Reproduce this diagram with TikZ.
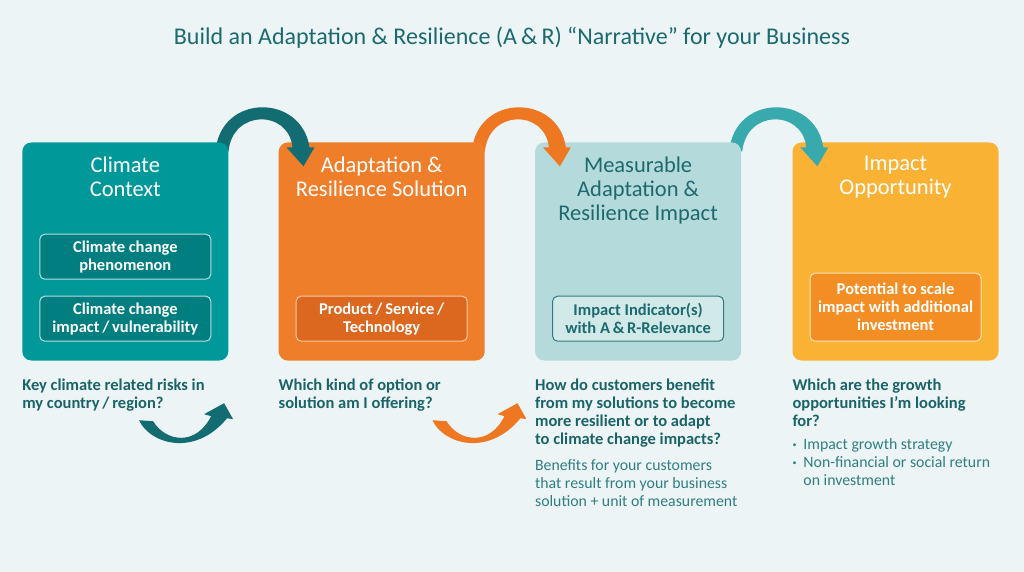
\documentclass[tikz,border=0pt]{standalone}
\usepackage{fontspec}
\setmainfont{Carlito}
\usetikzlibrary{positioning,calc}

\definecolor{bgcol}{HTML}{EDF4F6}
\definecolor{titlecol}{HTML}{1B6A6F}
\definecolor{qcol}{HTML}{1A6468}
\definecolor{desccol}{HTML}{2F7E82}
\definecolor{ctxteal}{HTML}{009899}
\definecolor{ctxsub}{HTML}{007E80}
\definecolor{ctxline}{HTML}{B9DEDE}
\definecolor{solorange}{HTML}{EF7E2B}
\definecolor{solsub}{HTML}{DC6820}
\definecolor{solline}{HTML}{F7C8A5}
\definecolor{impblue}{HTML}{B5DADB}
\definecolor{impsub}{HTML}{D2E9EA}
\definecolor{impline}{HTML}{2E7C80}
\definecolor{imptext}{HTML}{1C6A6E}
\definecolor{oppyellow}{HTML}{F9B234}
\definecolor{oppsub}{HTML}{F28E24}
\definecolor{oppline}{HTML}{FDE4B8}
% ribbon arrow colours
\definecolor{tealdark}{HTML}{126C71}
\definecolor{teallight}{HTML}{78B0B2}
\definecolor{orangedark}{HTML}{EE7722}
\definecolor{orangelight}{HTML}{F7B27F}
\definecolor{cyandark}{HTML}{38A9AD}
\definecolor{cyanlight}{HTML}{98D2D8}

\tikzset{
  box/.style={rounded corners=9pt, minimum width=206pt, minimum height=218pt, inner sep=0pt},
  boxtitle/.style={align=center, inner sep=0pt, font=\fontsize{22.5}{24}\selectfont},
  subbox/.style={rounded corners=5pt, line width=1pt, minimum width=171pt, minimum height=45pt,
    inner sep=0pt, align=center, font=\fontsize{16.5}{18}\selectfont\bfseries},
  question/.style={align=left, inner sep=0pt, text=qcol, font=\fontsize{16.5}{18}\selectfont\bfseries},
  answer/.style={align=left, inner sep=0pt, text=desccol, font=\fontsize{15.8}{18}\selectfont},
  pics/toparrow/.style n args={3}{code={
    \path[left color=#1, middle color=#2, right color=#3]
      (-63,9) .. controls (-58,-49) and (23,-49) .. (31,5) -- (36,5) -- (25,24) -- (8,5) -- (14,5)
      .. controls (10,-33) and (-46,-33) .. (-50,9) -- cycle;
  }},
  pics/lowarrow/.style n args={3}{code={
    \path[left color=#1, middle color=#2, right color=#3]
      (0,0) .. controls (10,23) and (55,38) .. (88,-2) -- (94,-1) -- (85,-17) -- (65,-6) -- (72,-4)
      .. controls (57,26) and (27,22) .. (14,1) -- cycle;
  }}
}
\newcommand{\dotitem}{\raisebox{0.35ex}{\fontsize{8}{8}\selectfont\textbullet}\hspace{7pt}}

\begin{document}
\begin{tikzpicture}[x=1pt,y=-1pt]
\fill[bgcol] (0,0) rectangle (1024,572);

\node[text=titlecol, font=\fontsize{24}{28}\selectfont] (title) at (512,38)
  {Build an Adaptation \& Resilience (A\,\&\,R) “Narrative” for your Business};

% boxes from right to left: each arrow lies under its source and over its target
\node[box, fill=oppyellow] (b4) at (895.5,251.5) {};
\pic at (b4.north west) {toparrow={cyandark}{cyanlight}{cyandark}};
\node[box, fill=impblue, left=51pt of b4] (b3) {};
\pic at (b3.north west) {toparrow={orangedark}{orangelight}{orangedark}};
\node[box, fill=solorange, left=50pt of b3] (b2) {};
\pic at (b2.north west) {toparrow={tealdark}{teallight}{tealdark}};
\node[box, fill=ctxteal, left=50pt of b2] (b1) {};

% titles
\node[boxtitle, text=white, below=14pt of b1.north] (t1) {Climate\\Context};
\node[boxtitle, text=white, below=14pt of b2.north] (t2) {Adaptation \&\\Resilience Solution};
\node[boxtitle, text=imptext, below=14pt of b3.north] (t3) {Measurable\\Adaptation \&\\Resilience Impact};
\node[boxtitle, text=white, below=14pt of b4.north] (t4) {Impact\\Opportunity};

% inner boxes
\node[subbox, fill=ctxsub, draw=ctxline, text=white, above=19pt of b1.south] (s12)
  {Climate change\\impact\,/\,vulnerability};
\node[subbox, fill=ctxsub, draw=ctxline, text=white, above=16pt of s12] (s11)
  {Climate change\\phenomenon};
\node[subbox, fill=solsub, draw=solline, text=white, above=19pt of b2.south] (s2)
  {Product\,/\,Service\,/\\Technology};
\node[subbox, fill=impsub, draw=impline, text=imptext, above=19pt of b3.south] (s3)
  {Impact Indicator(s)\\with A\,\&\,R-Relevance};
\node[subbox, minimum height=68pt, fill=oppsub, draw=oppline, text=white, above=19pt of b4.south] (s4)
  {Potential to scale\\impact with additional\\investment};

% questions
\node[question, below right=18pt and 0pt of b1.south west] (q1)
  {Key climate related risks in\\my country\,/\,region?};
\node[question, below right=18pt and 0pt of b2.south west] (q2)
  {Which kind of option or\\solution am I offering?};
\node[question, below right=18pt and 0pt of b3.south west] (q3)
  {How do customers benefit\\from my solutions to become\\more resilient or to adapt\\to climate change impacts?};
\node[answer, below right=12pt and 0pt of q3.south west] (a3)
  {Benefits for your customers\\that result from your business\\solution + unit of measurement};
\node[question, below right=18pt and 0pt of b4.south west] (q4)
  {Which are the growth\\opportunities I’m looking\\for?};
\node[answer, below right=12pt and 0pt of q4.south west] (a4)
  {\dotitem Impact growth strategy\\
   \dotitem Non-financial or social return\\
   \hphantom{\dotitem}on investment};

% lower arrows
\pic at ($(b1.south west)+(117,59.5)$) {lowarrow={tealdark}{teallight}{tealdark}};
\pic at ($(b2.south west)+(154,59.5)$) {lowarrow={orangedark}{orangelight}{orangedark}};
\end{tikzpicture}
\end{document}
